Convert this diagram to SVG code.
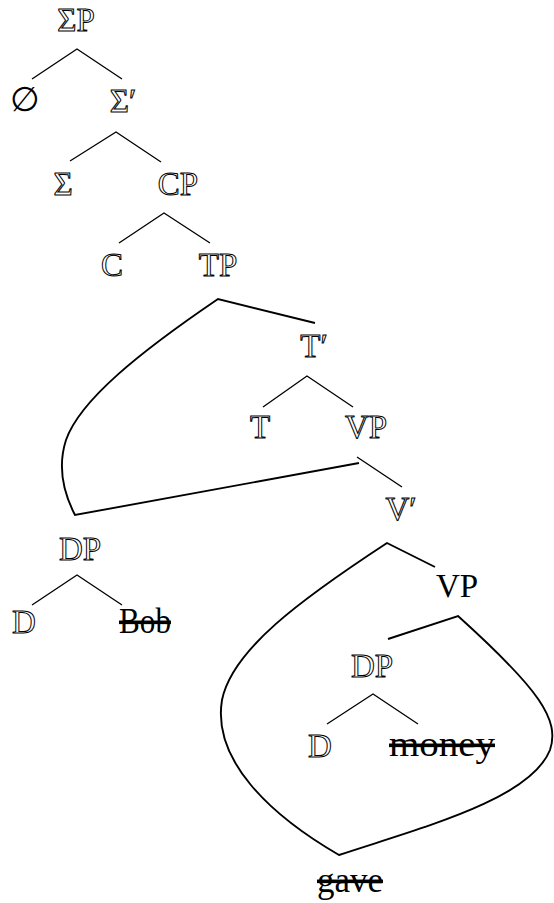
<svg xmlns="http://www.w3.org/2000/svg" width="554" height="903" viewBox="0 0 554 903">
<style>
text{font-family:"Liberation Serif","Times New Roman",serif;font-size:33px;text-anchor:middle}
.o{fill:#fff;stroke:#000;stroke-width:1}
.r{fill:#000}
.s{fill:#000;font-size:36px;text-decoration:line-through}
.b{fill:none;stroke:#000;stroke-width:1.3}
.m{fill:none;stroke:#000;stroke-width:1.9;stroke-linejoin:miter}
</style>
<rect width="554" height="903" fill="#fff"/>
<g id="connectors">
<path class="b" d="M32,79 L77,49 L122,79"/>
<path class="b" d="M70,161 L116,132 L161,162"/>
<path class="b" d="M119,243 L164,213 L210,243"/>
<path class="b" d="M263,407 L307,376 L353,407"/>
<path class="b" d="M357,457 L402,487"/>
<path class="b" d="M32,605 L77,575 L122,605"/>
<path class="b" d="M327,724 L373,694 L418,724"/>
<path class="m" d="M315,323 L218,299 C140,352 80,400 66,440 C58,465 62,490 75,515 L359,463"/>
<path class="m" d="M435,567 L387,543 C300,600 232,650 222,700 C212,760 270,815 339,855 C420,828 530,800 550,750 C560,720 540,690 458,616 L388,639"/>
</g>
<g id="n-SigmaP"><text class="o" x="76" y="31">ΣP</text></g>
<g id="n-empty"><text class="r" x="25" y="111" style="font-family:'Liberation Serif','Liberation Sans',serif;font-size:34px">∅</text></g>
<g id="n-SigmaBar"><text class="o" x="123" y="112">Σ′</text></g>
<g id="n-Sigma"><text class="o" x="63" y="195">Σ</text></g>
<g id="n-CP"><text class="o" x="178" y="195">CP</text></g>
<g id="n-C"><text class="o" x="112" y="276">C</text></g>
<g id="n-TP"><text class="o" x="218" y="276">TP</text></g>
<g id="n-TBar"><text class="o" x="314" y="357">T′</text></g>
<g id="n-T"><text class="o" x="260" y="438">T</text></g>
<g id="n-VP1"><text class="o" x="366" y="438">VP</text></g>
<g id="n-VBar"><text class="o" x="401" y="520">V′</text></g>
<g id="n-DP1"><text class="o" x="80" y="560">DP</text></g>
<g id="n-D1"><text class="o" x="24" y="633">D</text></g>
<g id="n-Bob"><text class="s" x="145" y="633" textLength="52" lengthAdjust="spacingAndGlyphs">Bob</text></g>
<g id="n-VP2"><text class="r" x="457" y="597">VP</text></g>
<g id="n-DP2"><text class="o" x="372" y="677">DP</text></g>
<g id="n-D2"><text class="o" x="320" y="757">D</text></g>
<g id="n-money"><text class="s" x="442" y="756" textLength="106" lengthAdjust="spacingAndGlyphs">money</text></g>
<g id="n-gave"><text class="s" x="350" y="892" textLength="66" lengthAdjust="spacingAndGlyphs">gave</text></g>
</svg>
